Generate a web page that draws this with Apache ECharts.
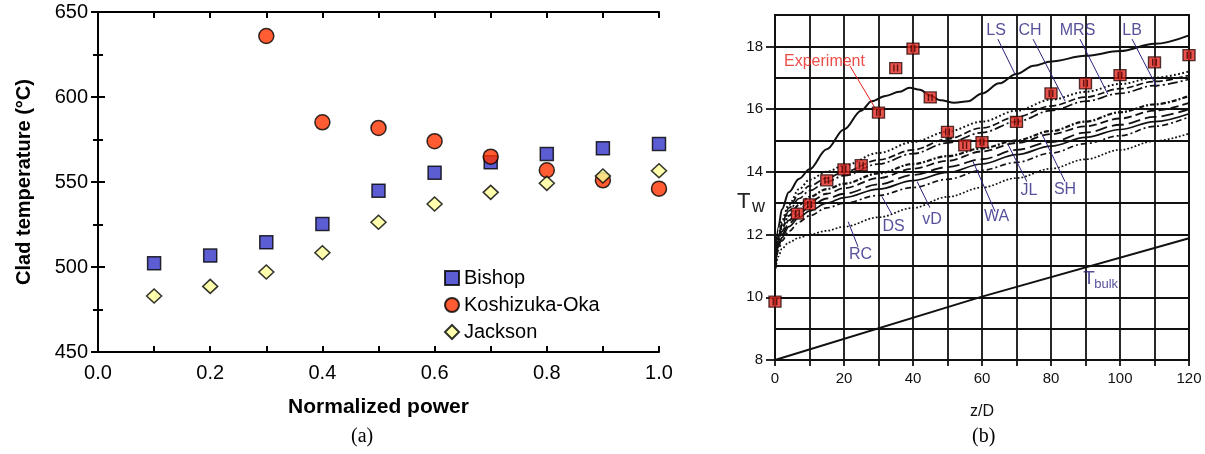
<!DOCTYPE html>
<html><head><meta charset="utf-8">
<script src="https://cdn.jsdelivr.net/npm/echarts@6/dist/echarts.min.js"></script>
<style>html,body{margin:0;padding:0;background:#fff}#c{width:1205px;height:454px}</style>
</head><body><div id="c"></div><script>
// ---------- Panel (a) data ----------
const powerVals = [0.1,0.2,0.3,0.4,0.5,0.6,0.7,0.8,0.9,1.0];
const bishop    = [502.2,506.7,514.5,525.3,544.9,555.5,561.6,566.5,569.8,572.4];
const koshizuka = [null,null,635.9,585.1,581.8,574.0,564.9,556.9,551.0,546.1];
const jackson   = [482.9,488.6,497.0,508.4,526.3,537.0,543.9,549.2,553.5,556.6];
const aXLabels  = [0,0.2,0.4,0.6,0.8,1.0];
const aYLabels  = [450,500,550,600,650];

// ---------- Panel (b) data ----------
const zGrid = [0,1,2,4,7,10,15,20,30,40,50,60,70,80,90,100,110,120];
const chCurve  = [10.9,12.0,12.45,12.95,13.45,13.75,14.0,14.2,14.6,14.95,15.28,15.6,15.95,16.3,16.55,16.8,17.0,17.2];
const mrsCurve = [10.9,11.95,12.35,12.85,13.3,13.55,13.8,14.0,14.38,14.7,15.05,15.4,15.75,16.1,16.38,16.65,16.88,17.08];
const lbCurve  = [10.9,11.9,12.3,12.75,13.15,13.4,13.68,13.88,14.25,14.58,14.92,15.25,15.6,15.95,16.25,16.5,16.75,16.95];
const jlCurve  = [10.9,11.85,12.2,12.6,12.95,13.2,13.45,13.62,13.95,14.25,14.5,14.75,15.0,15.3,15.6,15.9,16.15,16.42];
const shCurve  = [10.9,11.8,12.1,12.45,12.8,13.05,13.3,13.48,13.8,14.1,14.35,14.65,14.92,15.2,15.45,15.7,15.95,16.2];
const waCurve  = [10.9,11.7,12.0,12.35,12.65,12.9,13.15,13.3,13.6,13.9,14.15,14.4,14.7,14.95,15.25,15.5,15.75,16.0];
const vdCurve  = [10.9,11.6,11.9,12.25,12.55,12.75,13.0,13.18,13.45,13.72,13.98,14.25,14.55,14.82,15.1,15.35,15.6,15.85];
const dsCurve  = [10.9,11.5,11.8,12.1,12.4,12.6,12.85,13.0,13.25,13.5,13.76,14.05,14.3,14.6,14.9,15.15,15.45,15.75];
const rcCurve  = [10.8,11.3,11.55,11.75,11.9,12.0,12.12,12.25,12.55,12.85,13.2,13.5,13.8,14.1,14.4,14.7,14.98,15.22];
const lsZ   = [0,1,2,4,7,10,15,20,25,28,32,36,39,42,45,48,52,56,60,65,70,75,80,90,100,110,120];
const lsVal = [11.0,12.25,12.8,13.35,13.78,14.08,14.72,15.35,15.95,16.25,16.42,16.55,16.68,16.62,16.43,16.28,16.2,16.25,16.5,16.82,17.12,17.38,17.52,17.7,17.85,18.08,18.35];
const bulkZ   = [0,60,120];
const bulkVal = [8.0,10.02,11.88];
const expZ   = [0,6.5,10,15,20,25,30,35,40,45,50,55,60,70,80,90,100,110,120];
const expVal = [9.86,12.67,12.96,13.73,14.08,14.21,15.89,17.31,17.93,16.37,15.27,14.84,14.95,15.59,16.5,16.82,17.08,17.49,17.72];
const bXLabels = [0,20,40,60,80,100,120];
const bYLabels = [8,10,12,14,16,18];

// annotations (data coordinates of panel b)
const annotText = ['Experiment','LS','CH','MRS','LB','DS','vD','WA','JL','SH','RC'];
const annotZ    = [14.35,64.1,73.9,87.7,103.5,34.35,45.5,64.2,73.6,84.06,24.8];
const annotT    = [17.53,18.49,18.49,18.49,18.49,12.25,12.48,12.57,13.4,13.44,11.36];
const leaderFrom = [[21.74,17.37],[64.6,18.23],[74.8,18.23],[88.4,18.23],[103.5,18.23],[33.9,12.64],[44.9,12.86],[63.8,12.73],[73.0,13.69],[84.06,13.69],[24.06,11.61]];
const leaderTo   = [[29.57,15.93],[69.6,17.11],[84.1,16.25],[96.5,16.47],[110.7,16.7],[31.0,13.21],[41.2,13.69],[57.4,14.33],[67.5,14.88],[77.4,15.2],[21.2,12.41]];

const FONT = '"Liberation Sans", Arial, sans-serif';
const RED_T = '#e8201a', BLUE_T = '#2a2480';
const pairs = (xs, ys) => xs.map((x,i)=>[x, ys[i]]).filter(p=>p[1]!=null);

const chart = echarts.init(document.getElementById('c'), null, {renderer:'canvas'});

const axisA = {lineStyle:{color:'#000',width:2}};
const curveStyles = [
  ['LS', lsZ, lsVal, {type:'solid', width:2}, 0.35],
  ['CH', zGrid, chCurve, {type:[1.8,2.4], width:2}, 0.35],
  ['MRS', zGrid, mrsCurve, {type:[7,3], width:1.7}, 0.35],
  ['LB', zGrid, lbCurve, {type:[10,3,2,3], width:1.7}, 0.35],
  ['JL', zGrid, jlCurve, {type:[5,2,2,2], width:2.2}, 0.35],
  ['SH', zGrid, shCurve, {type:[8,4], width:1.8}, 0.35],
  ['WA', zGrid, waCurve, {type:[12,5], width:1.8}, 0.35],
  ['vD', zGrid, vdCurve, {type:'solid', width:1.7}, 0.35],
  ['DS', zGrid, dsCurve, {type:[6,3,2,3], width:1.7}, 0.35],
  ['RC', zGrid, rcCurve, {type:[1.8,2], width:1.7}, 0.35],
  ['Tbulk', bulkZ, bulkVal, {type:'solid', width:2}, false]
];

const series = [
  {name:'Bishop', type:'scatter', xAxisIndex:0, yAxisIndex:0, data:pairs(powerVals,bishop),
   symbol:'rect', symbolSize:13, itemStyle:{color:'#3434c8', borderColor:'#000', borderWidth:1.5}, z:3},
  {name:'Koshizuka-Oka', type:'scatter', xAxisIndex:0, yAxisIndex:0, data:pairs(powerVals,koshizuka),
   symbol:'circle', symbolSize:15, itemStyle:{color:'#ff3300', borderColor:'#000', borderWidth:1.5}, z:4},
  {name:'Jackson', type:'scatter', xAxisIndex:0, yAxisIndex:0, data:pairs(powerVals,jackson),
   symbol:'diamond', symbolSize:[15,14], itemStyle:{color:'#ffff99', borderColor:'#000', borderWidth:1.5}, z:5}
];
curveStyles.forEach(c => {
  series.push({name:c[0], type:'line', xAxisIndex:2, yAxisIndex:2, data:pairs(c[1],c[2]),
    showSymbol:false, symbol:'none', smooth:c[4], smoothMonotone:'x', silent:true,
    lineStyle:Object.assign({color:'#111'}, c[3]), z:3});
});
leaderFrom.forEach((p,i) => {
  series.push({type:'line', xAxisIndex:2, yAxisIndex:2, data:[p, leaderTo[i]], symbol:'none', silent:true,
    lineStyle:{color: i===0 ? RED_T : BLUE_T, width:1}, z:4});
});
series.push({type:'scatter', xAxisIndex:2, yAxisIndex:2, data:pairs(expZ,expVal), symbol:'rect', symbolSize:[12,11],
  itemStyle:{color:'#e3281e', borderColor:'#2a0a0a', borderWidth:1.3}, z:6});
series.push({type:'scatter', xAxisIndex:2, yAxisIndex:2, data:pairs(expZ,expVal),
  symbol:'path://M0,0h2v10h-2z M5,0h2v10h-2z', symbolSize:[5,7], itemStyle:{color:'#3a0505'}, z:7, silent:true});
const annLabel = {show:true, position:'inside', fontFamily:FONT, textBorderWidth:0, textShadowBlur:0};
series.push({type:'scatter', xAxisIndex:2, yAxisIndex:2, silent:true, z:8,
  data: annotText.map((t,i)=>({value:[annotZ[i],annotT[i]], label:{formatter:t, color: i===0 ? RED_T : BLUE_T}})),
  symbolSize:1, itemStyle:{color:'rgba(0,0,0,0)'},
  label:Object.assign({fontSize:16}, annLabel)});
// T_bulk label
series.push({type:'scatter', xAxisIndex:2, yAxisIndex:2, silent:true, z:8,
  data:[{value:[91.0,10.58], label:{formatter:'T', fontSize:19}}, {value:[96.0,10.42], label:{formatter:'bulk', fontSize:13}}],
  symbolSize:1, itemStyle:{color:'rgba(0,0,0,0)'},
  label:Object.assign({color:BLUE_T}, annLabel)});

const option = {
  animation:false,
  backgroundColor:'#fff',
  textStyle:{fontFamily:FONT},
  legend:{data:['Bishop','Koshizuka-Oka','Jackson'], orient:'vertical', left:439, top:263,
    itemWidth:14, itemHeight:14, itemGap:7, textStyle:{fontSize:20, color:'#000', fontFamily:FONT},
    selectedMode:false},
  grid:[
    {left:98, top:12, width:561, height:340, show:false},
    {left:775, top:15, width:414, height:345, show:true, borderColor:'#111', borderWidth:2, backgroundColor:'rgba(0,0,0,0)'}
  ],
  xAxis:[
    {gridIndex:0, type:'value', min:0, max:1, interval:0.2, position:'bottom',
     axisLine:axisA, axisTick:{inside:true, length:6, lineStyle:{width:2,color:'#000'}},
     minorTick:{show:true, splitNumber:2, length:6, lineStyle:{width:2,color:'#000'}},
     splitLine:{show:false},
     axisLabel:{fontSize:20, color:'#000', margin:11, fontFamily:FONT, formatter:v=>v.toFixed(1), customValues:aXLabels},
     name:'Normalized power', nameLocation:'middle', nameGap:45,
     nameTextStyle:{fontSize:21, fontWeight:'bold', color:'#000', fontFamily:FONT}},
    {gridIndex:0, type:'value', min:0, max:1, interval:0.2, position:'top',
     axisLine:axisA, axisTick:{inside:true, length:6, lineStyle:{width:2,color:'#000'}},
     minorTick:{show:true, splitNumber:2, length:6, lineStyle:{width:2,color:'#000'}},
     splitLine:{show:false}, axisLabel:{show:false}},
    {gridIndex:1, type:'value', min:0, max:120, interval:10,
     axisLine:{lineStyle:{color:'#111',width:2}}, axisTick:{length:6, lineStyle:{width:1.8,color:'#111'}},
     splitLine:{show:true, lineStyle:{color:'#111', width:1.8}},
     axisLabel:{fontSize:15, color:'#111', margin:11, fontFamily:FONT, customValues:bXLabels},
     name:'z/D', nameLocation:'middle', nameGap:44,
     nameTextStyle:{fontSize:16, color:'#111', fontFamily:FONT}}
  ],
  yAxis:[
    {gridIndex:0, type:'value', min:450, max:650, interval:50, position:'left',
     axisLine:axisA, axisTick:{inside:true, length:7, lineStyle:{width:2,color:'#000'}},
     minorTick:{show:true, splitNumber:2, length:5, lineStyle:{width:2,color:'#000'}},
     splitLine:{show:false},
     axisLabel:{fontSize:20, color:'#000', margin:10, fontFamily:FONT, customValues:aYLabels},
     name:'Clad temperature (°C)', nameLocation:'middle', nameGap:64,
     nameTextStyle:{fontSize:20, fontWeight:'bold', color:'#000', fontFamily:FONT}},
    {gridIndex:0, type:'value', min:450, max:650, interval:50, position:'right',
     axisLine:axisA, axisTick:{inside:true, length:7, lineStyle:{width:2,color:'#000'}},
     minorTick:{show:true, splitNumber:2, length:5, lineStyle:{width:2,color:'#000'}},
     splitLine:{show:false}, axisLabel:{show:false}},
    {gridIndex:1, type:'value', min:8, max:19, interval:1, position:'left',
     axisLine:{lineStyle:{color:'#111',width:2}},
     axisTick:{length:9, lineStyle:{width:1.8,color:'#111'}, customValues:bYLabels},
     splitLine:{show:false},
     axisLabel:{fontSize:15, color:'#111', margin:12, fontFamily:FONT, customValues:bYLabels}},
    {gridIndex:1, type:'value', min:8, max:19, interval:1, position:'right',
     axisLine:{show:false}, axisTick:{show:false}, axisLabel:{show:false},
     splitLine:{show:true, lineStyle:{color:'#111', width:1.8}}}
  ],
  graphic:[
    {type:'text', left:351, top:427, style:{text:'(a)', font:'20px "Liberation Serif", "Times New Roman", serif', fill:'#000'}},
    {type:'text', left:972, top:427, style:{text:'(b)', font:'20px "Liberation Serif", "Times New Roman", serif', fill:'#000'}},
    {type:'text', left:737, top:191, style:{text:'T', font:'22px ' + FONT, fill:'#222'}},
    {type:'text', left:752, top:198, style:{text:'w', font:'18px ' + FONT, fill:'#222'}}
  ],
  series: series
};
chart.setOption(option);
</script></body></html>
